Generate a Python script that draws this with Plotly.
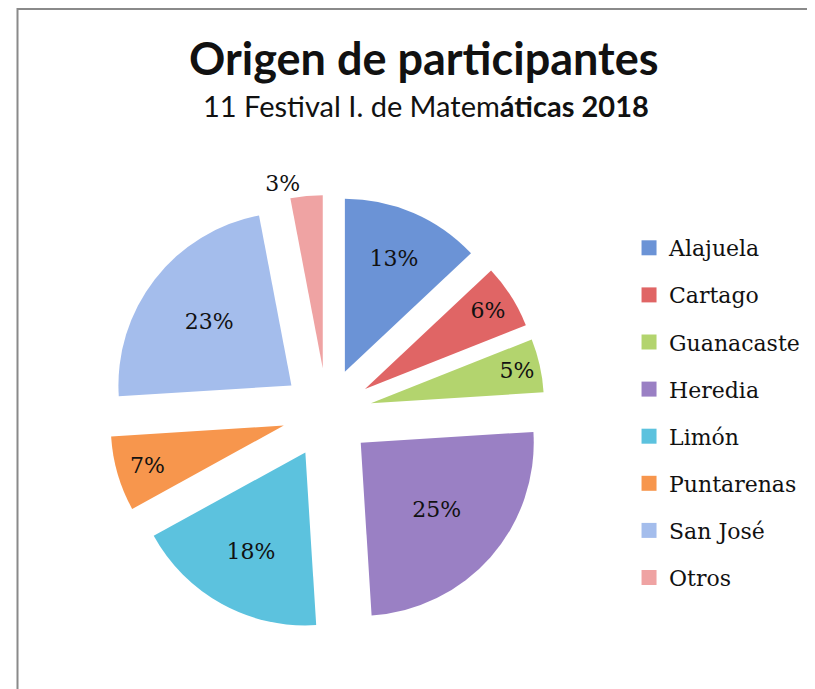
import plotly.graph_objects as go

categories = ["Alajuela", "Cartago", "Guanacaste", "Heredia", "Limón", "Puntarenas", "San José", "Otros"]
values = [13, 6, 5, 25, 18, 7, 23, 3]
colors = ["#6b93d6", "#e06565", "#b3d46e", "#9a80c4", "#5cc2de", "#f7964d", "#a4bdec", "#efa3a3"]

serif = "DejaVu Serif"
sans = "Lato"

fig = go.Figure()
fig.add_trace(go.Pie(
    labels=categories, values=values, sort=False, direction="clockwise", rotation=0,
    marker=dict(colors=colors, line=dict(width=0)),
    pull=[0.26] * len(values),
    texttemplate="%{value}%",
    textposition=["inside"] * 7 + ["outside"],
    insidetextorientation="horizontal",
    textfont=dict(family=serif, size=22, color="#111111"),
    showlegend=False, hoverinfo="label+percent",
    automargin=False,
    domain=dict(x=[0.1239, 0.6589], y=[0.0958, 0.7286]),
))

for name, col in zip(categories, colors):
    fig.add_trace(go.Scatter(
        x=[None], y=[None], mode="markers", name=name, legendgroup=name,
        marker=dict(symbol="square", size=15, color=col),
    ))

fig.update_layout(
    width=815, height=689,
    margin=dict(l=0, r=0, t=0, b=0, autoexpand=False),
    paper_bgcolor="white", plot_bgcolor="white",
    xaxis=dict(visible=False), yaxis=dict(visible=False),
    annotations=[
        dict(text="<b>Origen de participantes</b>", xref="paper", yref="paper",
             x=416 / 815, y=1 - 50 / 689, xanchor="center", yanchor="middle",
             showarrow=False, font=dict(family=sans, size=45, color="#111111")),
        dict(text="11 Festival I. de Matem<b>áticas 2018</b>", xref="paper", yref="paper",
             x=418 / 815, y=1 - 98 / 689, xanchor="center", yanchor="middle",
             showarrow=False, font=dict(family=sans, size=29, color="#111111")),
    ],
    legend=dict(
        x=0.762, y=1 - 219 / 689, xanchor="left", yanchor="top",
        font=dict(family=serif, size=22, color="#111111"),
        tracegroupgap=15.5, bgcolor="rgba(0,0,0,0)",
    ),
    shapes=[dict(type="rect", xref="paper", yref="paper",
                 x0=9.5 / 815, x1=1.05, y0=-0.05, y1=1 - 1 / 689,
                 line=dict(color="#8a8a8a", width=2), layer="below")],
)

fig.write_html("out.html")
